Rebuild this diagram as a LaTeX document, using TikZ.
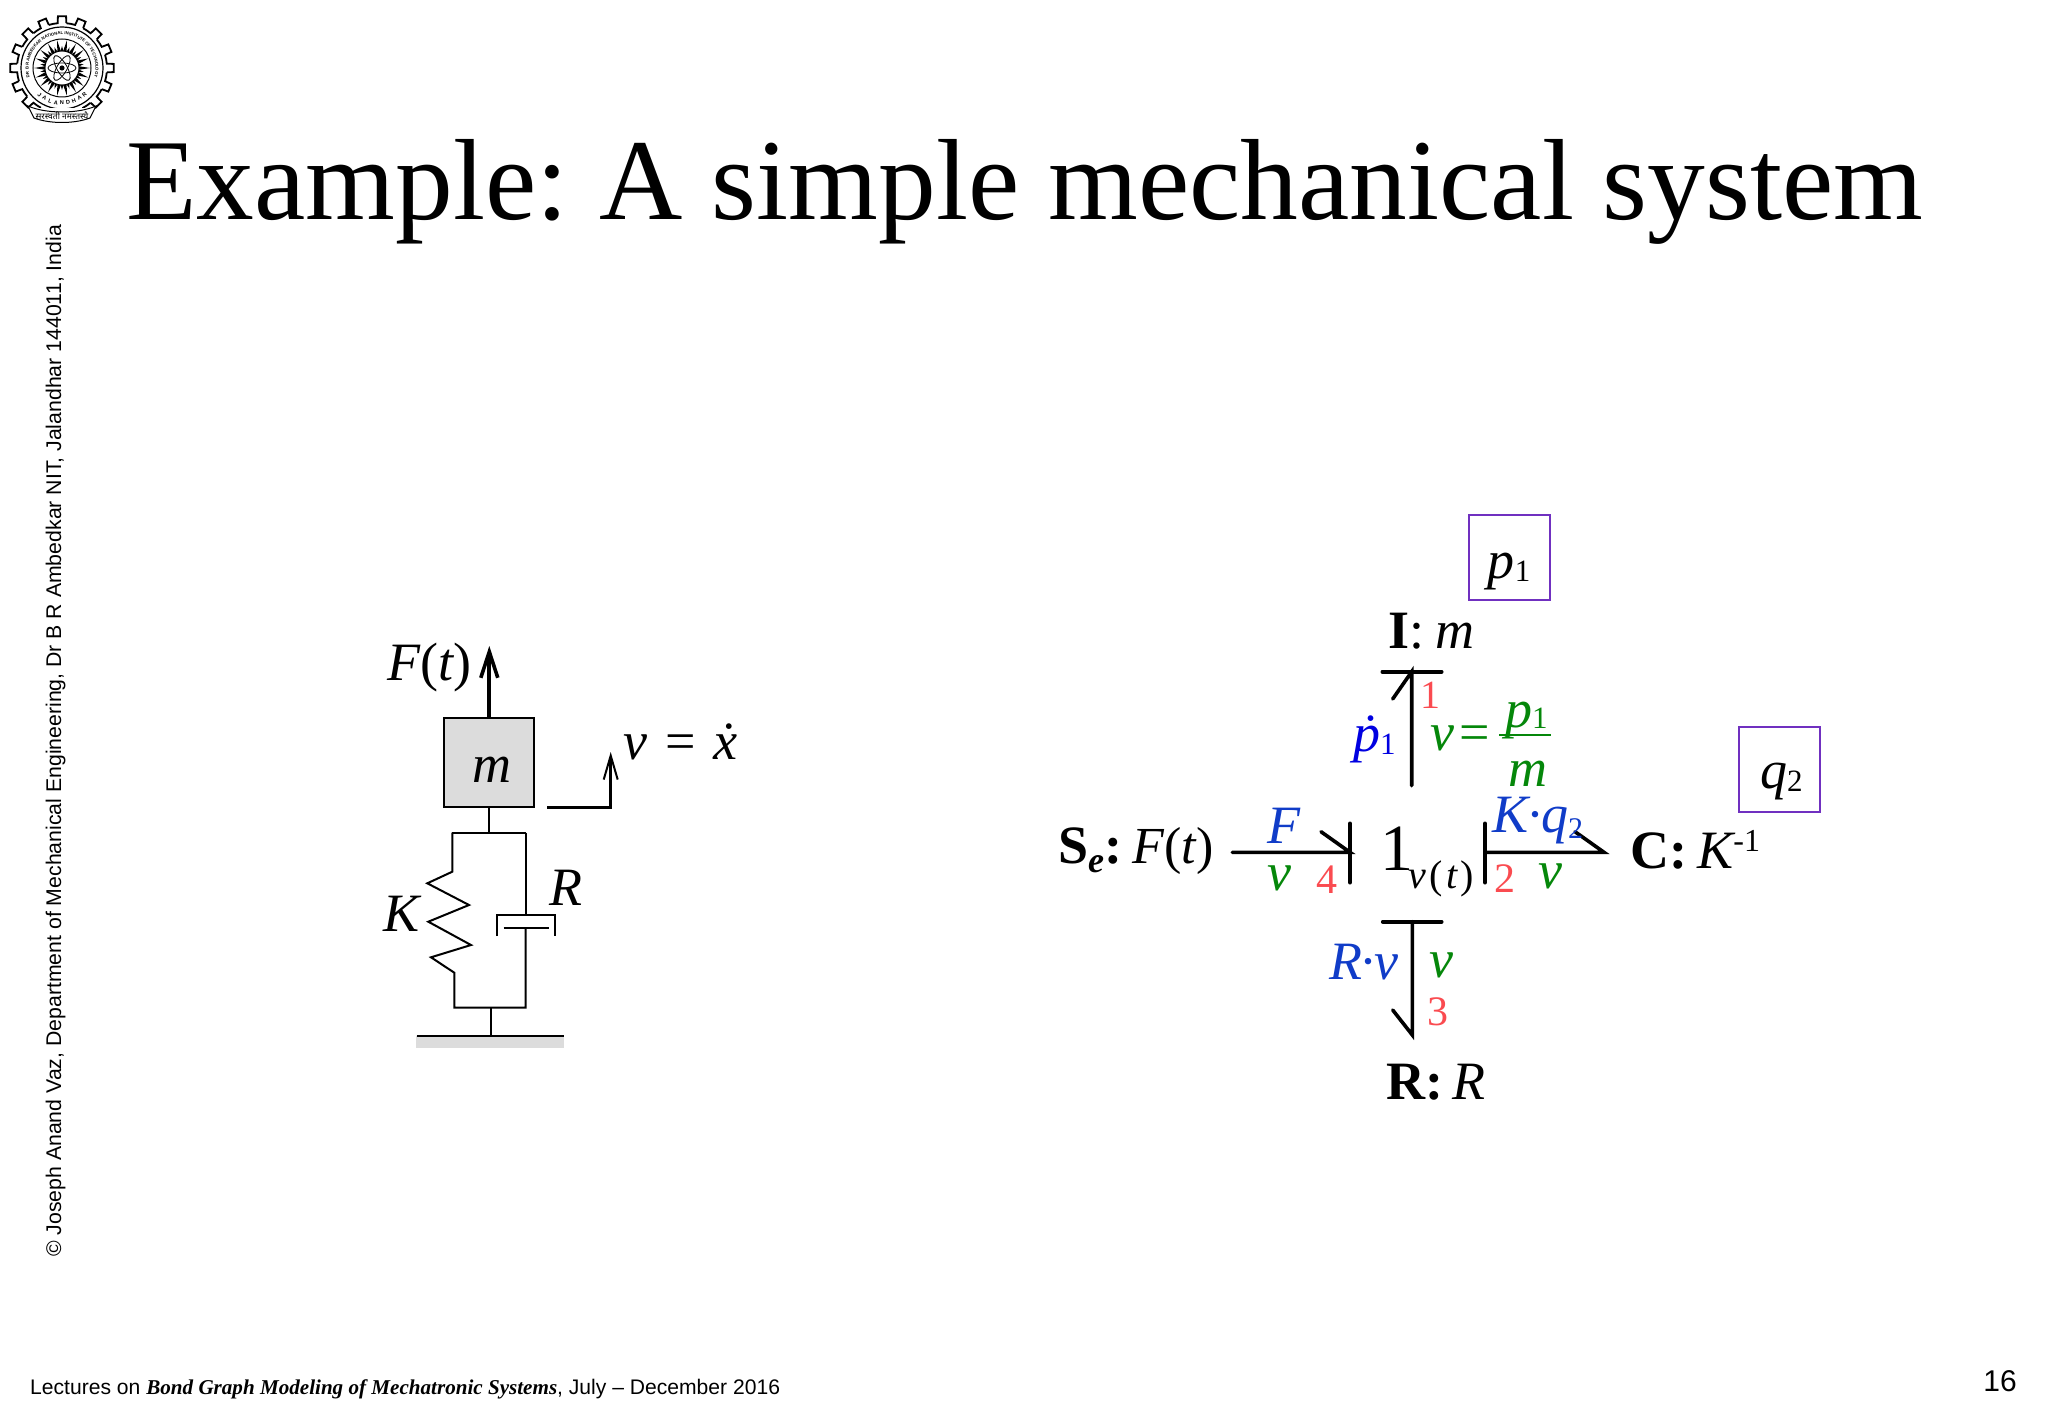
\documentclass[tikz,border=0pt]{standalone}
\usepackage{fontspec}
\setmainfont{Liberation Serif}
\setsansfont{Liberation Sans}
\newfontfamily\devafont[Script=Devanagari]{Noto Sans}
\usetikzlibrary{arrows.meta,decorations.text}
\definecolor{bgblue}{RGB}{16,60,200}
\definecolor{bgdot}{RGB}{0,0,225}
\definecolor{bggreen}{RGB}{5,135,10}
\definecolor{bgred}{RGB}{250,75,80}
\definecolor{bgviolet}{RGB}{112,48,192}
\definecolor{bggray}{RGB}{220,220,220}
\newcommand{\fs}[1]{\fontsize{#1}{#1}\selectfont}
\newcommand{\sub}[2]{\raisebox{-#1pt}{\fs{31}#2}}
\tikzset{
  lbl/.style={anchor=base west,inner sep=0pt,font=\fs{54}},
  bond/.style={line width=3.6pt,line cap=round},
  thinl/.style={line width=2pt},
  statebox/.style={draw=bgviolet,line width=2pt,inner sep=0pt,outer sep=0pt,anchor=north west}
}

\begin{document}
\begin{tikzpicture}[x=1pt,y=-1pt]
  \useasboundingbox (0,0) rectangle (2048,1418);
  % page texts
  \node[lbl,font=\fs{115.4}] (title) at (126,219) {Example:\kern2.5pt\ A simple mechanical system};
  \node[anchor=base west,inner sep=0pt,font=\sffamily\fs{21.25},rotate=90] (side) at (61,1257)
    {© Joseph Anand Vaz, Department of Mechanical Engineering, Dr B R Ambedkar NIT, Jalandhar 144011, India};
  \node[anchor=base west,inner sep=0pt,font=\sffamily\fs{21.1}] (foot) at (30,1394)
    {Lectures on {\rmfamily\bfseries\itshape Bond Graph Modeling of Mechatronic Systems}, July – December 2016};
  \node[anchor=base east,inner sep=0pt,font=\sffamily\fs{30}] (page) at (2017,1391) {16};

  % logo
  \begin{scope}[shift={(62,68)},x=1pt,y=1pt]
    \foreach \a in {0,22.5,...,337.5}
      \draw[line width=1.8pt] (\a-5.5:45) -- (\a-4.5:52) -- (\a+4.5:52) -- (\a+5.5:45)
        arc[start angle=\a+5.5,end angle=\a+16.9,radius=45];
    \draw[line width=1.2pt] (0,0) circle (41);
    \draw[line width=1pt] (0,0) circle (29);
    \foreach \a in {0,20,...,340}
      \fill (\a-7:16) -- (\a:28) -- (\a+7:16) -- cycle;
    \foreach \a in {10,30,...,350}
      \fill (\a-6:16) -- (\a:22) -- (\a+6:16) -- cycle;
    \fill[white] (0,0) circle (17);
    \draw[line width=.9pt] (0,0) circle (17);
    \foreach \a in {0,60,120}
      \draw[line width=.8pt,rotate=\a] (0,0) ellipse (14 and 5);
    \fill (0,0) circle (2.6);
    \path[decorate,decoration={text along path,text align=center,
      text={|\sffamily\bfseries\fs{4.2}|DR B R AMBEDKAR NATIONAL INSTITUTE OF TECHNOLOGY}}]
      (215:33.5) arc[start angle=215,end angle=-35,radius=33.5];
    \foreach \l [count=\i] in {J,A,L,A,N,D,H,A,R}
      \node[inner sep=0pt,font=\sffamily\bfseries\fs{5.6},rotate={(\i-5)*10}] (city\i)
        at ({270+(\i-5)*10}:35) {\l};
    \fill[white] (-32,-40) rectangle (32,-56);
    \draw[fill=white,line width=1pt] (-34,-38) .. controls (-16,-46) and (16,-46) .. (34,-38)
      -- (28,-50) .. controls (12,-56) and (-12,-56) .. (-28,-50) -- cycle;
    \node[inner sep=0pt,font=\devafont\fs{8.5}] (motto) at (0,-47.5) {सरस्वती नमस्तस्यै};
  \end{scope}

  % mechanical system
  \node[draw,fill=bggray,thinl,minimum width=89.7pt,minimum height=89.3pt,inner sep=0pt,outer sep=0pt,
    anchor=north west] (mass) at (444,718) {};
  \node[lbl] (mtxt) at (472,782) {\itshape m};
  \coordinate (Ftop) at (489.3,646);
  \coordinate (Fbot) at (489.3,718);
  \draw[line width=4.2pt,-{Straight Barb[length=26pt,width=17pt,line width=3.6pt]}] (Fbot) -- (Ftop);
  \node[lbl] (Flbl) at (387,680) {\itshape F\/\upshape(\itshape t\upshape)};
  \coordinate (va) at (547.3,807.7);
  \coordinate (vb) at (610.7,807.7);
  \coordinate (vc) at (610.7,752);
  \draw[line width=2.6pt,-{Straight Barb[length=24pt,width=14pt,line width=2pt]}] (va) -- (vb) -- (vc);
  \node[lbl] (vlbl) at (623,759) {\itshape v\upshape\,\,=\,\,\itshape\.x};
  \coordinate (sa) at (489.3,807.3);
  \coordinate (sb) at (489.3,832.7);
  \coordinate (sl) at (452.3,832.7);
  \coordinate (sr) at (525.7,832.7);
  \coordinate (cb) at (525.7,915);
  \coordinate (pa) at (525.7,927.7);
  \coordinate (bl) at (454.3,1007.7);
  \coordinate (br) at (525.7,1007.7);
  \coordinate (bm) at (490.7,1007.7);
  \coordinate (gm) at (490.7,1036);
  \draw[thinl] (sa) -- (sb);
  \draw[thinl] (sl) -- (sr);
  \draw[thinl,line join=miter] (sl) -- (452.3,871.7) -- (427.3,883.3) -- (469,905) -- (428.3,921.7)
    -- (471,945) -- (431,957.3) -- (454.3,972.7) -- (bl) -- (br) -- (pa);
  \draw[thinl] (sr) -- (cb);
  \draw[thinl] (496.7,936) -- (496.7,915) -- (555.3,915) -- (555.3,936);
  \draw[thinl] (503.7,927.7) -- (548.7,927.7);
  \draw[thinl] (bm) -- (gm);
  \fill[bggray] (416,1036) rectangle (564,1048);
  \draw[thinl] (416.7,1036) -- (564,1036);
  \node[lbl] (Klbl) at (383,931) {\itshape K};
  \node[lbl] (Rlbl) at (549,905) {\itshape R};

  % bond graph
  \node[lbl] (Ilbl) at (1388,648) {\textbf{I}:\hspace{.2em}\itshape m};
  \node[lbl] (Se) at (1058,863) {\textbf{S}\raisebox{-9pt}{\fs{36}\bfseries\itshape e}\textbf{:}};
  \node[lbl,font=\fs{52}] (Sef) at (1132,863) {\itshape F\/\upshape(\itshape t\upshape)};
  \node[lbl,font=\fs{66}] (one) at (1380,870) {1};
  \node[lbl,font=\fs{40}] (onesub) at (1408,888) {\itshape v\upshape\kern4pt(\kern3pt\itshape t\upshape\kern3pt)};
  \node[lbl] (Clbl) at (1630,868) {\textbf{C:}\hspace{.19em}\itshape K\upshape\raisebox{17pt}{\fs{32}-1}};
  \node[lbl] (Rel) at (1386,1099) {\textbf{R:}\hspace{.17em}\itshape R};
  % bond 1
  \coordinate (Ia) at (1411.7,785.7);
  \coordinate (Ib) at (1411.7,671.7);
  \draw[bond] (Ia) -- (Ib) -- (1392.7,699);
  \draw[bond] (1382.3,671.7) -- (1441.7,671.7);
  \node[lbl,text=bgred,font=\fs{40}] (n1) at (1420,708) {1};
  \node[lbl,text=bgdot] (pd) at (1353,751) {\itshape\.p\upshape\sub{3}{1}};
  \node[lbl,text=bggreen] (vv) at (1430,750) {\itshape v\upshape\kern5pt=};
  \coordinate (fa) at (1499.3,735);
  \coordinate (fb) at (1551,735);
  \draw[bggreen,line width=2pt] (fa) -- (fb);
  \node[lbl,text=bggreen] (pnum) at (1505,727) {\itshape p\upshape\sub{1}{1}};
  \node[lbl,text=bggreen] (mden) at (1508,786) {\itshape m};
  % bond 4
  \coordinate (Fa) at (1232.3,852.3);
  \coordinate (Fb) at (1350,852.3);
  \draw[bond] (Fa) -- (Fb) -- (1321,831.7);
  \draw[bond] (1350,823.3) -- (1350,882.7);
  \node[lbl,text=bgblue] (Fe) at (1267,843) {\itshape F};
  \node[lbl,text=bggreen] (vf) at (1267,890) {\itshape v};
  \node[lbl,text=bgred,font=\fs{42}] (n4) at (1316,893) {4};
  % bond 2
  \coordinate (Ca) at (1485,852.3);
  \coordinate (Cb) at (1604,852.3);
  \draw[bond] (Ca) -- (Cb) -- (1575,831.7);
  \draw[bond] (1485,823.3) -- (1485,882.7);
  \node[lbl,text=bgblue] (Kq) at (1492,832) {\itshape K\upshape\kern-2pt·\kern-3pt\itshape q\upshape\raisebox{-6pt}{\fs{30}2}};
  \node[lbl,text=bgred,font=\fs{42}] (n2) at (1494,892) {2};
  \node[lbl,text=bggreen] (vc2) at (1538,888) {\itshape v};
  % bond 3
  \coordinate (Ra) at (1412.3,921.7);
  \coordinate (Rb) at (1412.3,1035);
  \draw[bond] (Ra) -- (Rb) -- (1392.7,1010);
  \draw[bond] (1382.7,921.7) -- (1441.7,921.7);
  \node[lbl,text=bgblue] (Rv) at (1329,979) {\itshape R\upshape\kern-3pt·\kern-3pt\itshape v};
  \node[lbl,text=bggreen] (vr) at (1429,977) {\itshape v};
  \node[lbl,text=bgred,font=\fs{42}] (n3) at (1427,1025) {3};
  % state boxes
  \node[statebox,minimum width=81pt,minimum height=85pt] (pbox) at (1469,514.6) {};
  \node[lbl] (ptxt) at (1487.6,578.6) {\itshape p\upshape\sub{3}{1}};
  \node[statebox,minimum width=81pt,minimum height=84.4pt] (qbox) at (1739.3,727.3) {};
  \node[lbl] (qtxt) at (1760,788) {\itshape q\upshape\sub{3}{2}};
\end{tikzpicture}
\end{document}
